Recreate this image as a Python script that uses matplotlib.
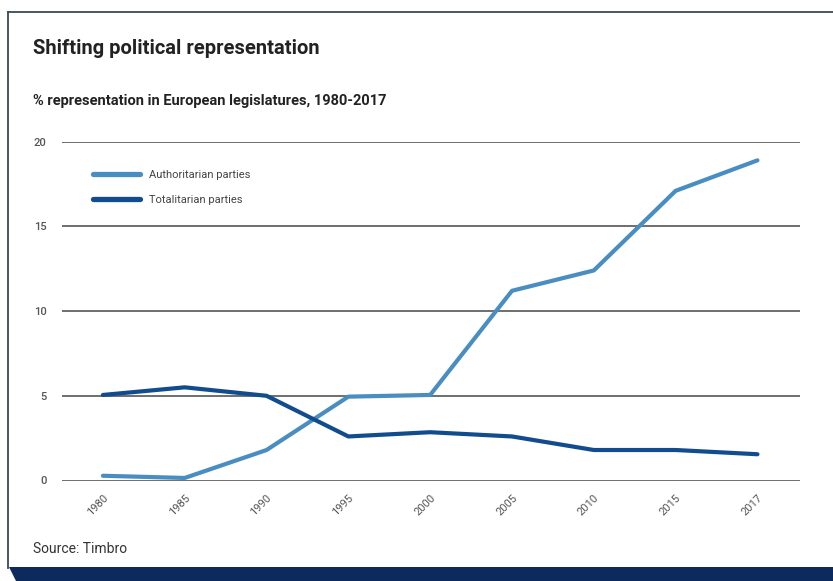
import matplotlib
matplotlib.use("Agg")
import matplotlib.pyplot as plt
from matplotlib.patches import Polygon
from matplotlib.lines import Line2D
from matplotlib import font_manager

years = ["1980", "1985", "1990", "1995", "2000", "2005", "2010", "2015", "2017"]
authoritarian = [0.28, 0.15, 1.8, 4.95, 5.05, 11.2, 12.4, 17.1, 18.9]
totalitarian = [5.05, 5.5, 5.0, 2.6, 2.85, 2.6, 1.8, 1.8, 1.55]
series_names = ["Authoritarian parties", "Totalitarian parties"]
yticks = [0, 5, 10, 15, 20]
title = "Shifting political representation"
subtitle = "% representation in European legislatures, 1980-2017"
source = "Source: Timbro"

names = {f.name for f in font_manager.fontManager.ttflist}
narrow = "Liberation Sans Narrow" if "Liberation Sans Narrow" in names else "Roboto"
head = "Roboto" if "Roboto" in names else "DejaVu Sans"

W, H = 833, 581
fig = plt.figure(figsize=(W / 100, H / 100), dpi=100)
fig.patch.set_facecolor("white")

# frame
frame_col = "#3b4a56"
fig.add_artist(Line2D([8 / W, 8 / W], [1 - 12 / H, 1 - 568 / H], color=frame_col, lw=1.3,
                      transform=fig.transFigure))
fig.add_artist(Line2D([8 / W, 1.0], [1 - 12 / H, 1 - 12 / H], color=frame_col, lw=1.3,
                      transform=fig.transFigure))
band = Polygon([(9 / W, 1 - 567 / H), (1.0, 1 - 567 / H), (1.0, 0.0), (16 / W, 0.0)],
               closed=True, facecolor="#0c2a5e", edgecolor="none", transform=fig.transFigure)
fig.add_artist(band)

left, right = 62 / W, 800 / W
bottom, top = 1 - 480.5 / H, 1 - 141.7 / H
ax = fig.add_axes([left, bottom, right - left, top - bottom])
ax.set_facecolor("none")

x = list(range(len(years)))
c_auth = "#4a8ec1"
c_tot = "#114c8e"
ax.plot(x, authoritarian, color=c_auth, lw=3.0, solid_capstyle="round", label=series_names[0], zorder=3)
ax.plot(x, totalitarian, color=c_tot, lw=3.0, solid_capstyle="round", label=series_names[1], zorder=3)

ax.set_xlim(-0.5, 8.52)
ax.set_ylim(0, 20)
ax.set_yticks(yticks)
ax.set_yticklabels([str(v) for v in yticks], fontfamily=narrow, fontsize=8,
                   fontweight="medium", color="#555555")
ax.set_xticks(x)
ax.set_xticklabels(years, fontfamily=narrow, fontsize=8, color="#555555",
                   rotation=45, ha="right", va="top", rotation_mode="anchor")
ax.tick_params(axis="y", length=0, pad=11)
ax.tick_params(axis="x", length=0, pad=9)
for s in ax.spines.values():
    s.set_visible(False)
ax.grid(axis="y", color="#555555", lw=1.2, zorder=1)
ax.set_axisbelow(True)

leg = ax.legend(loc="upper left", bbox_to_anchor=(0.028, 0.945), frameon=False,
                prop={"family": narrow, "size": 8}, handlelength=4.3, handletextpad=0.75,
                labelspacing=1.35, labelcolor="#444444")
for h in leg.get_lines():
    h.set_linewidth(3.8)

fig.text(33 / W, 1 - 49 / H, title, fontsize=14.5, fontweight="bold", family=head,
         color="#222222", va="center", ha="left")
fig.text(33 / W, 1 - 101 / H, subtitle, fontsize=10.5, fontweight="bold", family=head,
         color="#222222", va="center", ha="left")
fig.text(33 / W, 1 - 549 / H, source, fontsize=10, family=head,
         color="#333333", va="center", ha="left")

fig.savefig("out.png", dpi=100, facecolor="white")
